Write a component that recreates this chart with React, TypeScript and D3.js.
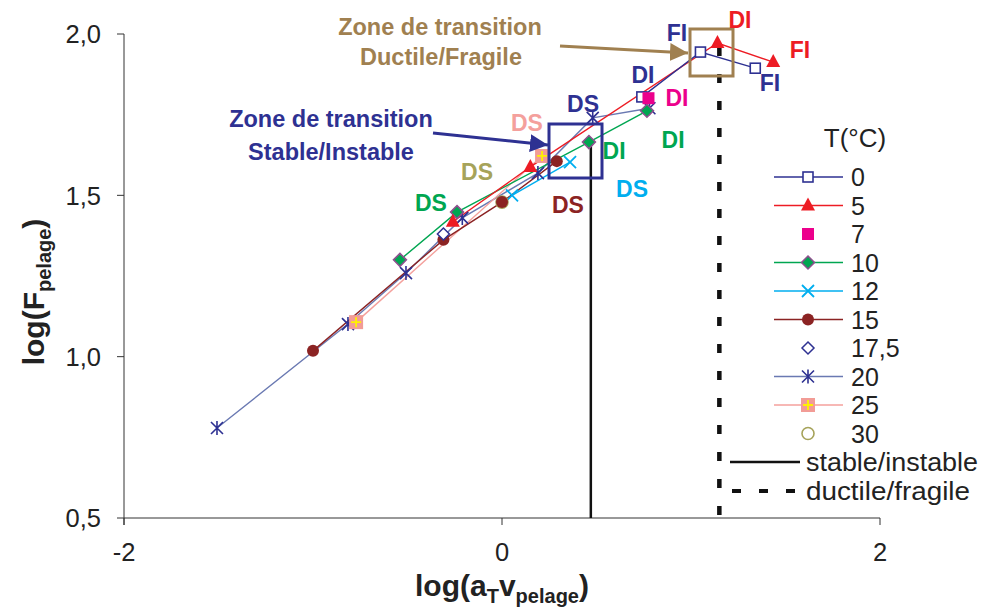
import React from "react";
import * as d3 from "d3";

// ---------- data ----------
const legendTitle = "T(°C)";
const seriesNames = ["0", "5", "7", "10", "12", "15", "17,5", "20", "25", "30"];
const s0: [number, number][] = [[0.74, 1.805], [1.05, 1.944], [1.34, 1.894]];
const s5: [number, number][] = [[-0.26, 1.418], [0.15, 1.588], [1.14, 1.972], [1.435, 1.913]];
const s7: [number, number][] = [[0.775, 1.801]];
const s10: [number, number][] = [[-0.54, 1.30], [-0.238, 1.448], [0.46, 1.665], [0.767, 1.762]];
const s12: [number, number][] = [[0.053, 1.50], [0.36, 1.603]];
const s15: [number, number][] = [[-1.0, 1.018], [-0.31, 1.362], [0.0, 1.479], [0.29, 1.606]];
const s175: [number, number][] = [[-0.31, 1.38]];
const s20: [number, number][] = [[-1.508, 0.779], [-0.815, 1.101], [-0.508, 1.259], [-0.21, 1.43], [0.19, 1.569], [0.48, 1.74], [0.78, 1.77]];
const s25: [number, number][] = [[-0.772, 1.107], [0.212, 1.622]];
const s30: [number, number][] = [[0.0, 1.479]];
const xTicks = [-2, 0, 2];
const yTicks = [0.5, 1.0, 1.5, 2.0];
const stableX = 0.47;
const stableTop = 1.665;
const ductileX = 1.15;
const ductileTop = 1.96;

type Lab = { t: string; x: number; y: number; c: string };
const regimeLabels: Lab[] = [
  { t: "DS", x: 0.132, y: 1.724, c: "#f4a09c" },
  { t: "DS", x: 0.429, y: 1.783, c: "#2e3192" },
  { t: "DS", x: -0.132, y: 1.572, c: "#a6a35a" },
  { t: "DS", x: -0.376, y: 1.476, c: "#00a651" },
  { t: "DS", x: 0.349, y: 1.47, c: "#8b2323" },
  { t: "DS", x: 0.688, y: 1.52, c: "#00aeef" },
  { t: "DI", x: 0.593, y: 1.637, c: "#00a651" },
  { t: "DI", x: 0.905, y: 1.671, c: "#00a651" },
  { t: "DI", x: 0.926, y: 1.802, c: "#ec008c" },
  { t: "DI", x: 0.746, y: 1.873, c: "#2e3192" },
  { t: "DI", x: 1.259, y: 2.043, c: "#ed1c24" },
  { t: "FI", x: 0.926, y: 2.003, c: "#2e3192" },
  { t: "FI", x: 1.577, y: 1.95, c: "#ed1c24" },
  { t: "FI", x: 1.418, y: 1.848, c: "#2e3192" },
];

// ---------- layout ----------
const W = 986, H = 607;
const x = d3.scaleLinear().domain([-2, 2]).range([124, 880]);
const y = d3.scaleLinear().domain([0.5, 2.0]).range([518, 34]);
const line = d3.line<[number, number]>().x(d => x(d[0])).y(d => y(d[1]));

const NAVY = "#2e3192";
const TAN = "#a08050";
const FONT = "'Liberation Sans', Arial, sans-serif";

type MarkerKind = "sqOpen" | "tri" | "sqFill" | "diamond" | "x" | "dot" | "diaOpen" | "star" | "sqPlus" | "circOpen";

function Marker({ kind, cx, cy }: { kind: MarkerKind; cx: number; cy: number }) {
  switch (kind) {
    case "sqOpen":
      return <rect x={cx - 5} y={cy - 5} width={10} height={10} fill="#fff" stroke={NAVY} strokeWidth={1.6} />;
    case "tri":
      return <path d={`M${cx},${cy - 8} L${cx + 7},${cy + 5} L${cx - 7},${cy + 5} Z`} fill="#ed1c24" />;
    case "sqFill":
      return <rect x={cx - 6} y={cy - 6} width={12} height={12} fill="#ec008c" />;
    case "diamond":
      return <path d={`M${cx},${cy - 6.5} L${cx + 6.5},${cy} L${cx},${cy + 6.5} L${cx - 6.5},${cy} Z`} fill="#00a651" stroke="#8e4f8e" strokeWidth={1.5} />;
    case "x":
      return <path d={`M${cx - 6},${cy - 6} L${cx + 6},${cy + 6} M${cx - 6},${cy + 6} L${cx + 6},${cy - 6}`} stroke="#00aeef" strokeWidth={1.8} />;
    case "dot":
      return <circle cx={cx} cy={cy} r={6} fill="#8b2323" />;
    case "diaOpen":
      return <path d={`M${cx},${cy - 6} L${cx + 6},${cy} L${cx},${cy + 6} L${cx - 6},${cy} Z`} fill="#fff" stroke={NAVY} strokeWidth={1.5} />;
    case "star":
      return <path d={`M${cx - 6},${cy - 6} L${cx + 6},${cy + 6} M${cx - 6},${cy + 6} L${cx + 6},${cy - 6} M${cx},${cy - 7} L${cx},${cy + 7}`} stroke={NAVY} strokeWidth={1.6} />;
    case "sqPlus":
      return (
        <g>
          <rect x={cx - 7} y={cy - 7} width={14} height={14} fill="#f29c96" />
          <path d={`M${cx - 5},${cy} L${cx + 5},${cy} M${cx},${cy - 5} L${cx},${cy + 5}`} stroke="#fff200" strokeWidth={1.8} />
        </g>
      );
    case "circOpen":
      return <circle cx={cx} cy={cy} r={6} fill="none" stroke="#a6a35a" strokeWidth={1.6} />;
  }
  return null;
}

type Series = { name: string; data: [number, number][]; color: string | null; kind: MarkerKind };
const series: Series[] = [
  { name: seriesNames[0], data: s0, color: NAVY, kind: "sqOpen" },
  { name: seriesNames[1], data: s5, color: "#ed1c24", kind: "tri" },
  { name: seriesNames[2], data: s7, color: null, kind: "sqFill" },
  { name: seriesNames[3], data: s10, color: "#00a651", kind: "diamond" },
  { name: seriesNames[4], data: s12, color: "#00aeef", kind: "x" },
  { name: seriesNames[5], data: s15, color: "#8b2323", kind: "dot" },
  { name: seriesNames[6], data: s175, color: null, kind: "diaOpen" },
  { name: seriesNames[7], data: s20, color: "#6a79b2", kind: "star" },
  { name: seriesNames[8], data: s25, color: "#f4a09c", kind: "sqPlus" },
  { name: seriesNames[9], data: s30, color: null, kind: "circOpen" },
];

const drawOrder = [7, 8, 5, 4, 3, 1, 0, 2, 6, 9];
const markerOrder = [7, 8, 3, 1, 4, 9, 5, 6, 0, 2];

export default function App() {
  const fmt = (v: number) => String(v);
  const yFmt = (v: number) => v.toFixed(1).replace(".", ",");
  const legX0 = 774, legX1 = 843, legTX = 851;
  const legY = (i: number) => 177 + i * 28.5;

  return (
    <svg width={W} height={H} style={{ display: "block", position: "absolute", left: 0, top: 0, background: "#fff" }} fontFamily={FONT}>
      <rect x={0} y={0} width={W} height={H} fill="#fff" />
      <defs>
        <marker id="arrTan" viewBox="0 0 10 10" refX={10} refY={5} markerWidth={6} markerHeight={6.5} markerUnits="strokeWidth" orient="auto">
          <path d="M0,0 L10,5 L0,10 Z" fill={TAN} />
        </marker>
        <marker id="arrNavy" viewBox="0 0 10 10" refX={10} refY={5} markerWidth={6} markerHeight={6.5} markerUnits="strokeWidth" orient="auto">
          <path d="M0,0 L10,5 L0,10 Z" fill={NAVY} />
        </marker>
      </defs>

      {/* axes */}
      <g stroke="#333" strokeWidth={1}>
        <line x1={x(-2)} x2={x(-2)} y1={y(2.0)} y2={y(0.5) + 7} />
        <line x1={x(-2)} x2={x(2)} y1={y(0.5)} y2={y(0.5)} />
        {yTicks.map(v => (
          <line key={"yt" + v} x1={x(-2) - 7} x2={x(-2)} y1={y(v)} y2={y(v)} />
        ))}
        {xTicks.map(v => (
          <line key={"xt" + v} x1={x(v)} x2={x(v)} y1={y(0.5)} y2={y(0.5) + 7} />
        ))}
      </g>
      {yTicks.map(v => (
        <text key={"yl" + v} x={101} y={y(v)} dy="0.36em" textAnchor="end" fontSize={25.5} fill="#222">{yFmt(v)}</text>
      ))}
      {xTicks.map(v => (
        <text key={"xl" + v} x={x(v)} y={561} textAnchor="middle" fontSize={25.5} fill="#222">{fmt(v)}</text>
      ))}

      {/* axis titles */}
      <text x={502} y={596} textAnchor="middle" fontSize={30} fontWeight="bold" fill="#222">
        log(a<tspan fontSize={20} dy={7}>T</tspan><tspan dy={-7}>v</tspan><tspan fontSize={20} dy={7}>pelage</tspan><tspan dy={-7}>)</tspan>
      </text>
      <text transform="translate(44,292) rotate(-90)" textAnchor="middle" fontSize={30} fontWeight="bold" fill="#222">
        log(F<tspan fontSize={20} dy={7}>pelage</tspan><tspan dy={-7}>)</tspan>
      </text>

      {/* transition lines */}
      <line x1={x(stableX)} x2={x(stableX)} y1={y(stableTop)} y2={y(0.5)} stroke="#111" strokeWidth={2.5} />
      <line x1={x(ductileX)} x2={x(ductileX)} y1={y(ductileTop)} y2={y(0.5)} stroke="#111" strokeWidth={4.5} strokeDasharray="9 18" />

      {/* series lines */}
      {drawOrder.map(i => {
        const s = series[i];
        if (!s.color || s.data.length < 2) return null;
        return <path key={"l" + i} d={line(s.data) || ""} fill="none" stroke={s.color} strokeWidth={1.4} />;
      })}
      {/* markers */}
      {markerOrder.map(i => {
        const s = series[i];
        return (
          <g key={"m" + i}>
            {s.data.map((d, j) => (
              <Marker key={j} kind={s.kind} cx={x(d[0])} cy={y(d[1])} />
            ))}
          </g>
        );
      })}

      {/* zones */}
      <rect x={549} y={124} width={53} height={54} fill="none" stroke={NAVY} strokeWidth={3} />
      <rect x={690} y={29} width={43} height={47} fill="none" stroke={TAN} strokeWidth={3} />
      <line x1={433} y1={133} x2={548} y2={145} stroke={NAVY} strokeWidth={3} markerEnd="url(#arrNavy)" />
      <line x1={560} y1={46} x2={688} y2={53} stroke={TAN} strokeWidth={3} markerEnd="url(#arrTan)" />
      <g fontSize={23.5} fontWeight="bold" textAnchor="middle">
        <text x={331} y={119} dy="0.35em" fill={NAVY}>Zone de transition</text>
        <text x={331} y={152} dy="0.35em" fill={NAVY}>Stable/Instable</text>
        <text x={440} y={27} dy="0.35em" fill={TAN}>Zone de transition</text>
        <text x={441} y={57} dy="0.35em" fill={TAN}>Ductile/Fragile</text>
      </g>

      {/* regime labels */}
      <g fontSize={23} fontWeight="bold" textAnchor="middle">
        {regimeLabels.map((l, i) => (
          <text key={"r" + i} x={x(l.x)} y={y(l.y)} dy="0.36em" fill={l.c}>{l.t}</text>
        ))}
      </g>

      {/* legend */}
      <text x={855} y={138} dy="0.36em" textAnchor="middle" fontSize={26} fill="#222">{legendTitle}</text>
      {series.map((s, i) => (
        <g key={"lg" + i}>
          {s.color && <line x1={legX0} x2={legX1} y1={legY(i)} y2={legY(i)} stroke={s.color} strokeWidth={1.6} />}
          <Marker kind={s.kind} cx={(legX0 + legX1) / 2 - 0.5} cy={legY(i)} />
          <text x={legTX} y={legY(i)} dy="0.36em" fontSize={25} fill="#222">{s.name}</text>
        </g>
      ))}
      <line x1={730} x2={800} y1={462} y2={462} stroke="#111" strokeWidth={2.5} />
      <text x={806} y={462} dy="0.36em" fontSize={25} fill="#222" textLength={172} lengthAdjust="spacingAndGlyphs">stable/instable</text>
      <line x1={732} x2={800} y1={491} y2={491} stroke="#111" strokeWidth={4} strokeDasharray="9 18" />
      <text x={806} y={491} dy="0.36em" fontSize={25} fill="#222" textLength={164} lengthAdjust="spacingAndGlyphs">ductile/fragile</text>
    </svg>
  );
}
